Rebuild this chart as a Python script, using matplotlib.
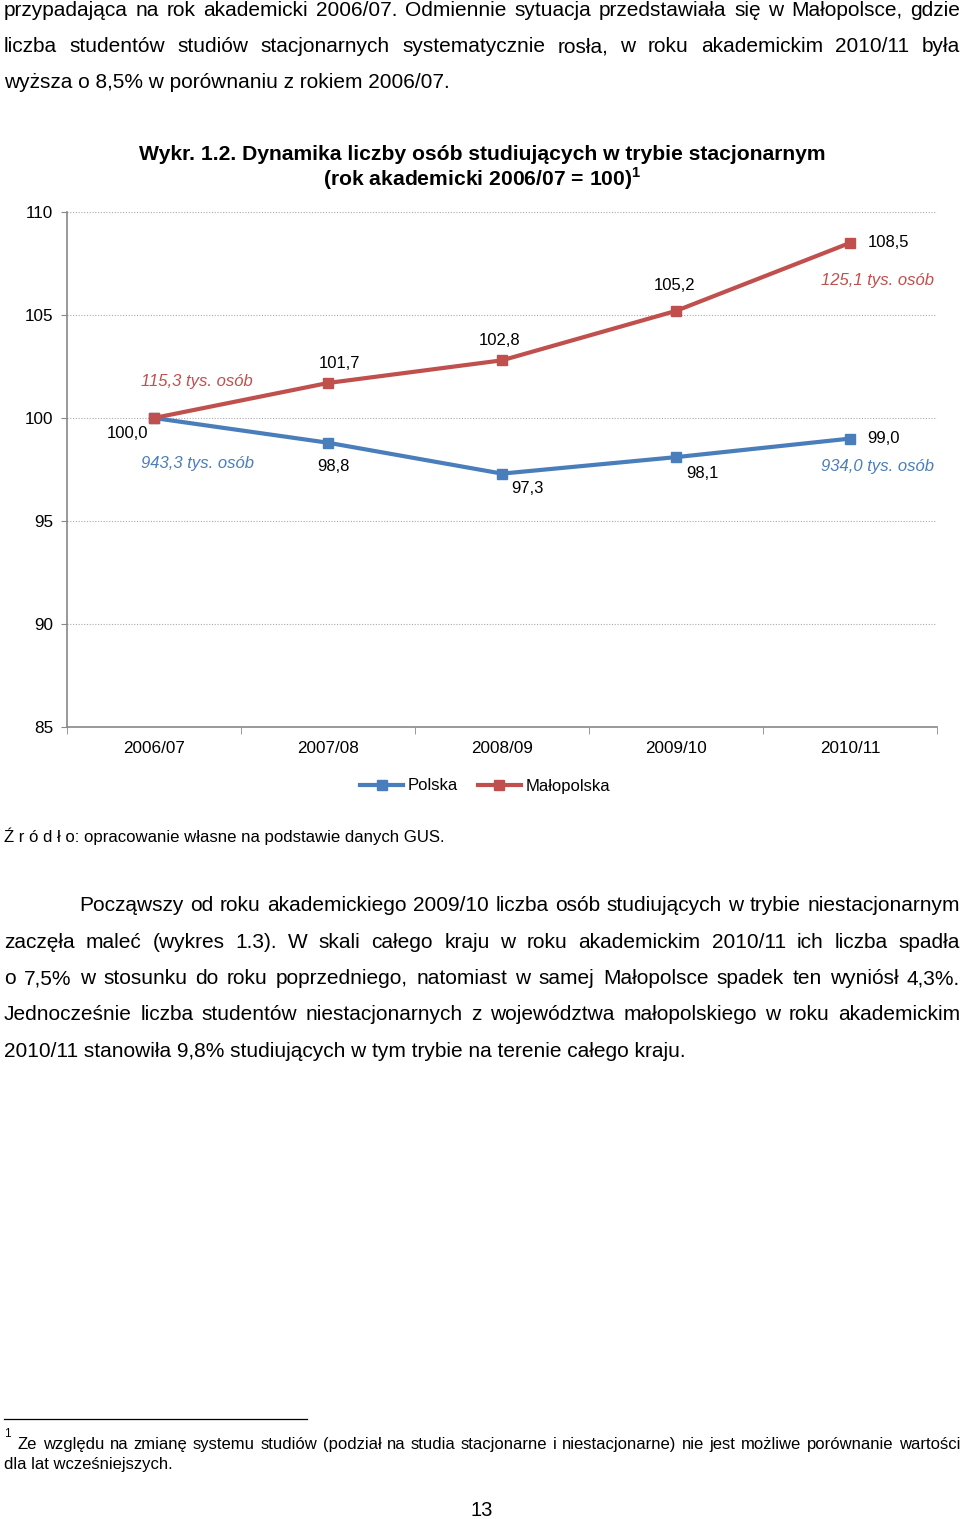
import matplotlib
matplotlib.use('Agg')
import matplotlib.pyplot as plt
from matplotlib.lines import Line2D

plt.rcParams['font.family'] = ['Liberation Sans', 'DejaVu Sans']
plt.rcParams['mathtext.fontset'] = 'custom'
plt.rcParams['mathtext.rm'] = 'Liberation Sans'
plt.rcParams['mathtext.bf'] = 'Liberation Sans:bold'

# data
years = ['2006/07', '2007/08', '2008/09', '2009/10', '2010/11']
polska = [100.0, 98.8, 97.3, 98.1, 99.0]
malopolska = [100.0, 101.7, 102.8, 105.2, 108.5]
series_names = ['Polska', 'Małopolska']
first_abs = ['943,3 tys. osób', '115,3 tys. osób']
last_abs = ['934,0 tys. osób', '125,1 tys. osób']
yticks = [85, 90, 95, 100, 105, 110]

BLUE = '#4a7ebb'
RED = '#c0504d'
W, H = 960, 1519
BODY = 15

fig = plt.figure(figsize=(W / 100, H / 100), dpi=100)
renderer = fig.canvas.get_renderer()


def P(x, y):
    # pixel (from top-left) -> figure fraction
    return x / W, 1 - y / H


def base(y, size):
    # visual centre y -> baseline y
    return y + 0.34 * size * 100 / 72


def line_left(txt, x, y, size=BODY, **kw):
    fig.text(*P(x, base(y, size)), txt, fontsize=size, va='baseline', ha='left', **kw)


def line_just(txt, x0, x1, y, size=BODY):
    words = txt.split(' ')
    texts = [fig.text(0, 0, w, fontsize=size, va='baseline') for w in words]
    widths = [t.get_window_extent(renderer).width for t in texts]
    gap = (x1 - x0 - sum(widths)) / (len(words) - 1)
    x = x0
    for t, w in zip(texts, widths):
        t.set_position(P(x, base(y, size)))
        x += w + gap


# text above the chart
line_just('przypadająca na rok akademicki 2006/07. Odmiennie sytuacja przedstawiała się w Małopolsce, gdzie', 4, 960, 9)
line_just('liczba studentów studiów stacjonarnych systematycznie rosła, w roku akademickim 2010/11 była', 4, 960, 45)
line_left('wyższa o 8,5% w porównaniu z rokiem 2006/07.', 4, 81)

# chart title
fig.text(*P(482, 155), 'Wykr. 1.2. Dynamika liczby osób studiujących w trybie stacjonarnym',
         fontsize=15.2, fontweight='bold', ha='center', va='center')
fig.text(*P(482, 179), r'(rok akademicki 2006/07 = 100)$^{\mathregular{1}}$',
         fontsize=15.2, fontweight='bold', ha='center', va='center')

# chart
ax = fig.add_axes([67 / W, 1 - 727 / H, 870 / W, 515 / H])
x = list(range(len(years)))
ax.plot(x, polska, color=BLUE, lw=3, marker='s', ms=6.5, zorder=3)
ax.plot(x, malopolska, color=RED, lw=3, marker='s', ms=6.5, zorder=3)

ax.set_xlim(-0.5, len(years) - 0.5)
ax.set_ylim(85, 110)
ax.set_yticks(yticks)
ax.set_yticklabels([str(v) for v in yticks], fontsize=12.3)
ax.set_xticks(x)
ax.set_xticklabels(years, fontsize=12.3)
ax.set_xticks([i - 0.5 for i in range(len(years) + 1)], minor=True)
ax.tick_params(axis='x', which='major', length=0, pad=10)
ax.tick_params(axis='x', which='minor', length=5, color='#888888', direction='out')
ax.tick_params(axis='y', length=4, color='#888888', pad=6)
for v in yticks[1:]:
    ax.axhline(v, color='#aaaaaa', lw=0.8, ls=(0, (1, 1.5)), zorder=1)
for s in ['top', 'right']:
    ax.spines[s].set_visible(False)
for s in ['left', 'bottom']:
    ax.spines[s].set_color('#888888')
    ax.spines[s].set_linewidth(1.2)

fmt = lambda v: f'{v:.1f}'.replace('.', ',')
# value labels, offsets in points
mal_off = [(-19, -11), (8, 14), (-2, 14), (-1, 18), (28, 0)]
pol_off = [None, (4, -17), (18, -11), (19, -12), (24, 0)]
for i, v in enumerate(malopolska):
    ax.annotate(fmt(v), (i, v), xytext=mal_off[i], textcoords='offset points',
                ha='center', va='center', fontsize=12)
for i, v in enumerate(polska):
    if pol_off[i] is None:
        continue
    ax.annotate(fmt(v), (i, v), xytext=pol_off[i], textcoords='offset points',
                ha='center', va='center', fontsize=12)

ax.annotate(first_abs[1], (0, malopolska[0]), xytext=(31, 26), textcoords='offset points',
            ha='center', va='center', fontsize=12, style='italic', color=RED)
ax.annotate(first_abs[0], (0, polska[0]), xytext=(31, -33), textcoords='offset points',
            ha='center', va='center', fontsize=12, style='italic', color=BLUE)
ax.annotate(last_abs[1], (4, malopolska[-1]), xytext=(20, -27), textcoords='offset points',
            ha='center', va='center', fontsize=12, style='italic', color=RED)
ax.annotate(last_abs[0], (4, polska[-1]), xytext=(20, -20), textcoords='offset points',
            ha='center', va='center', fontsize=12, style='italic', color=BLUE)

handles = [Line2D([], [], color=BLUE, lw=3, marker='s', ms=6.5),
           Line2D([], [], color=RED, lw=3, marker='s', ms=6.5)]
fig.legend(handles, series_names, loc='center', bbox_to_anchor=P(485, 786), ncol=2,
           frameon=False, fontsize=12, handlelength=2.6, handletextpad=0.25,
           columnspacing=1.2)

line_left('Ź r ó d ł o: opracowanie własne na podstawie danych GUS.', 4, 836, size=12.1)

# text below the chart
line_just('Począwszy od roku akademickiego 2009/10 liczba osób studiujących w trybie niestacjonarnym', 79, 960, 904)
line_just('zaczęła maleć (wykres 1.3). W skali całego kraju w roku akademickim 2010/11 ich liczba spadła', 4, 960, 941)
line_just('o 7,5% w stosunku do roku poprzedniego, natomiast w samej Małopolsce spadek ten wyniósł 4,3%.', 4, 960, 977)
line_just('Jednocześnie liczba studentów niestacjonarnych z województwa małopolskiego w roku akademickim', 4, 960, 1013)
line_left('2010/11 stanowiła 9,8% studiujących w tym trybie na terenie całego kraju.', 4, 1050)

# footnote
fig.add_artist(Line2D([4 / W, 307 / W], [1 - 1419 / H] * 2, color='black', lw=0.9))
line_left('1', 4, 1433, size=8.5)
line_just('Ze względu na zmianę systemu studiów (podział na studia stacjonarne i niestacjonarne) nie jest możliwe porównanie wartości',
          18, 960, 1443, size=12)
line_left('dla lat wcześniejszych.', 4, 1463, size=12)
fig.text(*P(482, 1511), '13', fontsize=14.5, ha='center', va='center')

fig.savefig('out.png', dpi=100)
